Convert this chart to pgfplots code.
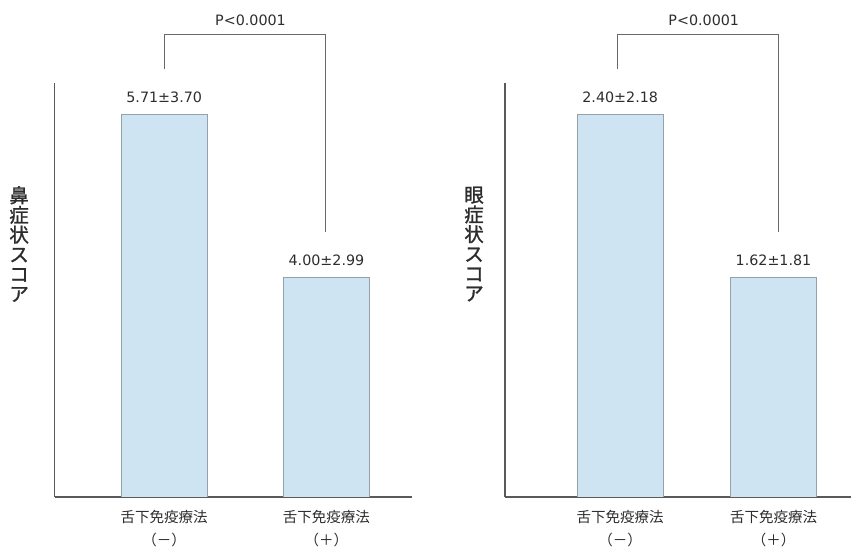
\documentclass[border=0pt]{standalone}
\usepackage{fontspec}
\usepackage{pgfplots}
\pgfplotsset{compat=1.18}
\setmainfont{DejaVu Sans}
\newfontfamily\cjk{Noto Sans CJK JP}
\newfontfamily\cjkb[FakeBold=1.3]{Noto Sans CJK JP}

\definecolor{barfill}{RGB}{207,228,242}
\definecolor{baredge}{RGB}{150,160,170}
\definecolor{axisgray}{RGB}{90,90,90}
\definecolor{brgray}{RGB}{105,105,105}
\definecolor{txt}{RGB}{45,45,45}

\pgfplotsset{
  panel/.style={
    scale only axis,
    height=414bp,
    axis x line=bottom, axis y line=left,
    axis line style={-, draw=axisgray, line width=1.1pt},
    ytick=\empty,
    xtick={0,1},
    major tick length=0pt,
    xticklabels={{舌下免疫療法\\（－）},{舌下免疫療法\\（＋）}},
    xticklabel style={font=\cjk\fontsize{14.5bp}{23bp}\selectfont, text=txt,
      align=center, anchor=north, inner sep=0pt, yshift=-13bp},
    ylabel style={font=\cjkb\fontsize{19.5bp}{19.7bp}\selectfont, text=txt,
      rotate=-90, align=center, anchor=center},
    clip mode=individual,
    ybar,
    every node near coord/.append style={font=\fontsize{14.3bp}{16bp}\selectfont,
      text=txt, anchor=base, inner sep=0pt, yshift=11.5bp},
  },
  bars/.style={fill=barfill, draw=baredge, line width=0.8pt,
    nodes near coords, point meta=explicit symbolic},
}

\begin{document}
\begin{tikzpicture}
\useasboundingbox (0,0) rectangle (851bp,551bp);

% 鼻症状スコア
\begin{axis}[panel,
  at={(54.5bp,54bp)}, anchor=south west,
  width=357.5bp,
  xmin=-0.676, xmax=1.527,
  ymin=1.695, ymax=6.038,
  bar width=0.532,
  ylabel={鼻\\症\\状\\ス\\コ\\ア},
  ylabel style={at={(axis description cs:-0.099,0.611)}},
]
\addplot[bars] coordinates {(0,5.71) [5.71±3.70] (1,4.00) [4.00±2.99]};
\draw[brgray, line width=1.1pt] (axis cs:0,6.180) -- (axis cs:0,6.549)
  -- (axis cs:0.995,6.549) -- (axis cs:0.995,4.475);
\node[font=\fontsize{14.3bp}{16bp}\selectfont, text=txt] at (axis cs:0.532,6.694) {P<0.0001};
\end{axis}

% 眼症状スコア
\begin{axis}[panel,
  at={(505bp,54bp)}, anchor=south west,
  width=346bp,
  xmin=-0.7515, xmax=1.5056,
  ymin=0.5687, ymax=2.5498,
  bar width=0.561,
  ylabel={眼\\症\\状\\ス\\コ\\ア},
  ylabel style={at={(axis description cs:-0.0896,0.611)}},
]
\addplot[bars] coordinates {(0,2.40) [2.40±2.18] (1,1.62) [1.62±1.81]};
\draw[brgray, line width=1.1pt] (axis cs:-0.019,2.6144) -- (axis cs:-0.019,2.7829)
  -- (axis cs:1.031,2.7829) -- (axis cs:1.031,1.8382);
\node[font=\fontsize{14.3bp}{16bp}\selectfont, text=txt] at (axis cs:0.545,2.8489) {P<0.0001};
\end{axis}
\end{tikzpicture}
\end{document}
